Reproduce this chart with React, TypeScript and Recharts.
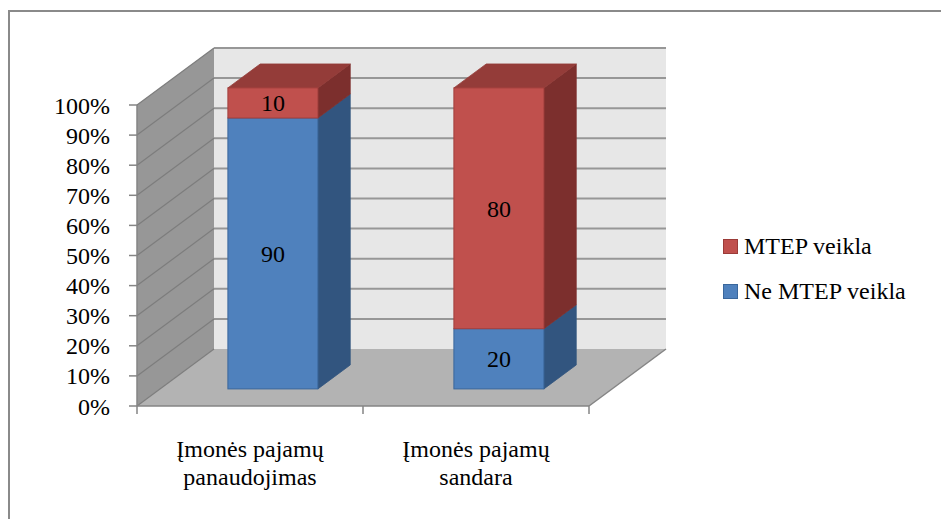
import React from "react";
import { Bar, BarChart, LabelList, Legend, XAxis, YAxis, usePlotArea } from "recharts";

// Category names (line break where the axis label wraps)
const categories = ["Įmonės pajamų\npanaudojimas", "Įmonės pajamų\nsandara"];

// Shares in percent, bottom series first
const neMtepValues = [90, 20];
const mtepValues = [10, 80];

const yTicks = [0, 10, 20, 30, 40, 50, 60, 70, 80, 90, 100];

const data = categories.map((name, i) => ({
  name,
  neMtep: neMtepValues[i],
  mtep: mtepValues[i],
}));

const FONT = "Liberation Serif, Tinos, DejaVu Serif, Noto Serif, Times New Roman, serif";
const FONT_SIZE = 24;

// Depth of the 3d box (back wall relative to the front plane)
const DEPTH_X = 77;
const DEPTH_Y = -57;
// Bars sit a bit behind the front plane and have their own depth
const BAR_OFF_X = DEPTH_X * 0.3;
const BAR_OFF_Y = DEPTH_Y * 0.3;
const BAR_DEPTH_X = DEPTH_X * 0.42;
const BAR_DEPTH_Y = DEPTH_Y * 0.42;

const pts = (list: number[][]) => list.map((p) => p.join(",")).join(" ");

// Side wall, back wall, floor and their grid lines
const Walls = () => {
  const area = usePlotArea();
  if (!area) return null;
  const L = area.x;
  const T = area.y;
  const R = area.x + area.width;
  const B = area.y + area.height;
  const dx = DEPTH_X;
  const dy = DEPTH_Y;
  const ys = yTicks.map((v) => B - (v / 100) * area.height);
  const mid = (L + R) / 2;

  return (
    <g>
      <polygon points={pts([[L, B], [L, T], [L + dx, T + dy], [L + dx, B + dy]])} fill="#979797" />
      <polygon points={pts([[L + dx, T + dy], [R + dx, T + dy], [R + dx, B + dy], [L + dx, B + dy]])} fill="#e7e7e7" />
      <polygon points={pts([[L, B], [R, B], [R + dx, B + dy], [L + dx, B + dy]])} fill="#b3b3b3" />
      {ys.map((y, i) => (
        <g key={i}>
          {i > 0 && (
            <line x1={L + dx} y1={y + dy} x2={R + dx} y2={y + dy} stroke="#979797" strokeWidth={2} />
          )}
          <line x1={L} y1={y} x2={L + dx} y2={y + dy} stroke="#7d7d7d" strokeWidth={1.2} />
        </g>
      ))}
      <line x1={R} y1={B} x2={R + dx} y2={B + dy} stroke="#858585" strokeWidth={1.5} />
      {[L, mid, R].map((x, i) => (
        <line key={i} x1={x} y1={B} x2={x} y2={B + 8} stroke="#858585" strokeWidth={1.5} />
      ))}
    </g>
  );
};

const makeBox = (front: string, side: string, top: string, edge: string, withTop: boolean) =>
  (props: any) => {
    const { x, y, width, height } = props;
    const fx = x + BAR_OFF_X;
    const fy = y + BAR_OFF_Y;
    const bx = BAR_DEPTH_X;
    const by = BAR_DEPTH_Y;
    return (
      <g>
        <polygon
          points={pts([[fx + width, fy], [fx + width + bx, fy + by], [fx + width + bx, fy + height + by], [fx + width, fy + height]])}
          fill={side}
          stroke={side}
          strokeWidth={0.8}
        />
        {withTop && (
          <polygon
            points={pts([[fx, fy], [fx + bx, fy + by], [fx + width + bx, fy + by], [fx + width, fy]])}
            fill={top}
            stroke={top}
            strokeWidth={0.8}
          />
        )}
        <rect x={fx} y={fy} width={width} height={height} fill={front} stroke={edge} strokeWidth={1} />
      </g>
    );
  };

const renderValue = (props: any) => {
  const { x, y, width, height, value } = props;
  return (
    <text
      x={x + BAR_OFF_X + width / 2}
      y={y + BAR_OFF_Y + height / 2}
      dy="0.35em"
      textAnchor="middle"
      style={{ fontFamily: FONT }}
      fontSize={FONT_SIZE}
      fill="#000"
    >
      {value}
    </text>
  );
};

const CategoryTick = (props: any) => {
  const { x, payload } = props;
  const lines = String(payload.value).split("\n");
  return (
    <text x={x} y={457} textAnchor="middle" style={{ fontFamily: FONT }} fontSize={FONT_SIZE} fill="#000">
      {lines.map((line, i) => (
        <tspan key={i} x={x} dy={i === 0 ? 0 : 28}>
          {line}
        </tspan>
      ))}
    </text>
  );
};

const legendItems = [
  { label: "MTEP veikla", color: "#c0504d", edge: "#9b3b38" },
  { label: "Ne MTEP veikla", color: "#4f81bd", edge: "#3a679c" },
];

const renderLegend = () => (
  <div style={{ fontFamily: FONT, fontSize: FONT_SIZE, color: "#000" }}>
    {legendItems.map((item) => (
      <div key={item.label} style={{ display: "flex", alignItems: "center", height: 45 }}>
        <span
          style={{
            display: "inline-block",
            width: 13,
            height: 13,
            background: item.color,
            border: `1px solid ${item.edge}`,
            marginRight: 6,
          }}
        />
        <span>{item.label}</span>
      </div>
    ))}
  </div>
);

export default function App() {
  return (
    <div
      style={{
        position: "absolute",
        left: 0,
        top: 0,
        width: 941,
        height: 519,
        overflow: "hidden",
        background: "#fff",
        fontFamily: FONT,
      }}
    >
      <div
        style={{
          position: "absolute",
          left: 8,
          top: 10,
          width: 1000,
          height: 600,
          border: "2px solid #8a8a8a",
        }}
      />
      <BarChart
        width={941}
        height={519}
        data={data}
        margin={{ top: 105, right: 352, bottom: 0, left: 0 }}
        barCategoryGap="30%"
        style={{ position: "absolute", left: 0, top: 0, fontFamily: FONT }}
      >
        <Walls />
        <XAxis
          dataKey="name"
          height={113}
          tickLine={false}
          axisLine={{ stroke: "#858585", strokeWidth: 1.5 }}
          tick={<CategoryTick />}
          interval={0}
        />
        <YAxis
          width={137}
          domain={[0, 100]}
          ticks={yTicks}
          interval={0}
          tickFormatter={(v) => `${v}%`}
          tickSize={8}
          tickMargin={19}
          tickLine={{ stroke: "#858585", strokeWidth: 1.5 }}
          axisLine={{ stroke: "#858585", strokeWidth: 1.5 }}
          tick={{ fill: "#000", fontSize: FONT_SIZE, style: { fontFamily: FONT } }}
        />
        <Bar
          dataKey="neMtep"
          stackId="a"
          fill="#4f81bd"
          shape={makeBox("#4f81bd", "#32557f", "#3f6ca0", "#3a679c", false)}
          isAnimationActive={false}
        >
          <LabelList dataKey="neMtep" content={renderValue} />
        </Bar>
        <Bar
          dataKey="mtep"
          stackId="a"
          fill="#c0504d"
          shape={makeBox("#c0504d", "#7c2f2d", "#943c39", "#a33f3c", true)}
          isAnimationActive={false}
        >
          <LabelList dataKey="mtep" content={renderValue} />
        </Bar>
        <Legend
          layout="vertical"
          align="center"
          verticalAlign="middle"
          content={renderLegend}
          wrapperStyle={{ left: 723, top: 224, width: "auto" }}
        />
      </BarChart>
    </div>
  );
}
